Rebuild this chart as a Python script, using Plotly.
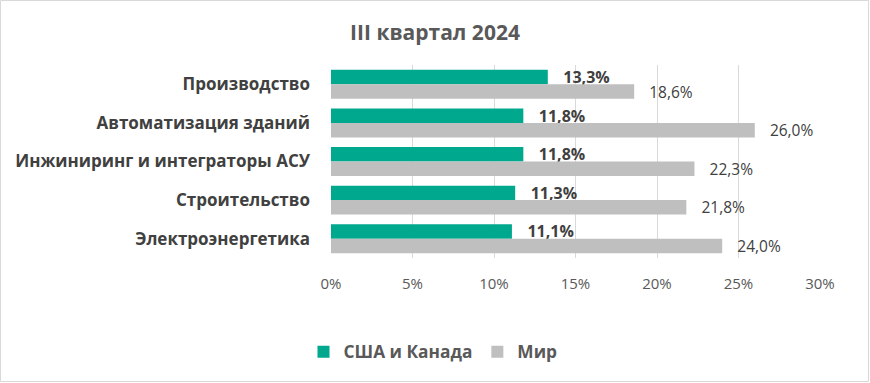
import plotly.graph_objects as go

categories = ["Производство", "Автоматизация зданий", "Инжиниринг и интеграторы АСУ",
              "Строительство", "Электроэнергетика"]
usa_canada = [13.3, 11.8, 11.8, 11.3, 11.1]
world = [18.6, 26.0, 22.3, 21.8, 24.0]
series_names = ["США и Канада", "Мир"]
title_text = "III квартал 2024"

TEAL = "#00A88E"
GRAY = "#BFBFBF"
FONT = "Open Sans"

fig = go.Figure()
fig.add_trace(go.Bar(
    y=categories, x=usa_canada, orientation="h", name=series_names[0],
    marker=dict(color=TEAL, line=dict(width=0)),
    texttemplate="   %{x:.1f}%", textposition="outside", constraintext="none",
    textfont=dict(family=FONT, size=16, color="#404040", weight="bold"),
    cliponaxis=False,
))
fig.add_trace(go.Bar(
    y=categories, x=world, orientation="h", name=series_names[1],
    marker=dict(color=GRAY, line=dict(width=0)),
    texttemplate="   %{x:.1f}%", textposition="outside", constraintext="none",
    textfont=dict(family=FONT, size=15.5, color="#404040"),
    cliponaxis=False,
))

fig.update_layout(
    width=870, height=383,
    margin=dict(l=331, r=50, t=65, b=125, autoexpand=False),
    paper_bgcolor="white", plot_bgcolor="white",
    separators=", ",
    barmode="group", bargap=0.25, bargroupgap=0,
    title=dict(text=title_text, x=0.5, xanchor="center", y=1 - 33 / 383, yanchor="middle",
               font=dict(family=FONT, size=21, color="#595959", weight="bold")),
    xaxis=dict(range=[0, 30], dtick=5, ticksuffix="%", showgrid=True,
               gridcolor="#D9D9D9", gridwidth=1, zeroline=False, showline=False,
               tickfont=dict(family=FONT, size=15, color="#595959"), ticks="",
               ticklabelstandoff=15, fixedrange=True),
    yaxis=dict(autorange="reversed", showgrid=False, showline=False, ticks="",
               tickfont=dict(family=FONT, size=17, color="#404040", weight="bold"),
               ticklabelstandoff=20, fixedrange=True),
    showlegend=True,
    legend=dict(orientation="h", x=(433 - 331) / 489, xanchor="center",
                y=-(352 - 258) / 193, yanchor="middle",
                font=dict(family=FONT, size=17.3, color="#595959", weight="bold"),
                itemwidth=30, traceorder="normal"),
    shapes=[dict(type="rect", xref="paper", yref="paper",
                 x0=-331 / 489 + 0.5 / 489, x1=1 + 50 / 489 - 1.5 / 489,
                 y0=-125 / 193 + 1.5 / 193, y1=1 + 65 / 193 - 0.5 / 193,
                 line=dict(color="#D9D9D9", width=1), layer="below")],
)

fig.write_html("out.html", config={"displayModeBar": False},
               post_script="document.body.style.margin='0';")
